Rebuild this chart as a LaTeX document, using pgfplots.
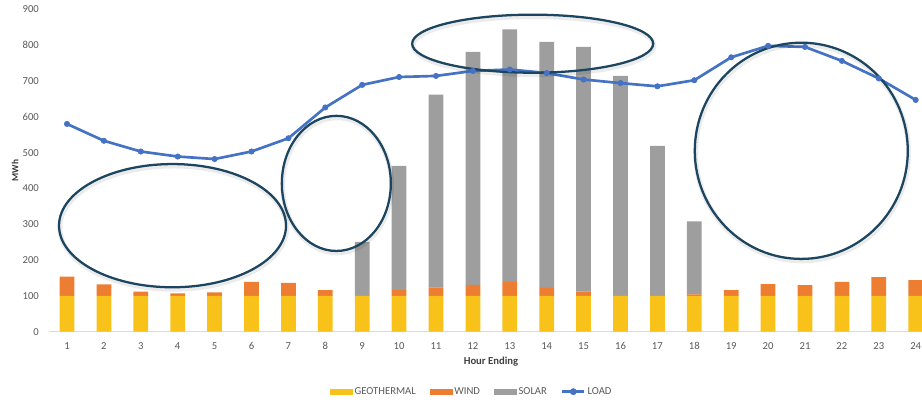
\documentclass[border=0pt]{standalone}
\usepackage{fontspec}
\setmainfont{Carlito}
\usepackage{pgfplots}
\usepackage{pgfplotstable}
\pgfplotsset{compat=1.18}

\definecolor{geo}{HTML}{F8C21A}
\definecolor{wind}{HTML}{ED7D31}
\definecolor{solar}{HTML}{9E9E9E}
\definecolor{load}{HTML}{4472C4}
\definecolor{ring}{HTML}{1C4560}
\definecolor{ticktxt}{HTML}{595959}
\definecolor{baseline}{HTML}{D9D9D9}

% hourly generation mix and load (MWh)
\pgfplotstableread{
hour geo wind solar load
1  100 54 0   580
2  100 32 0   533
3  100 12 0   503
4  100 7  0   489
5  100 10 0   482
6  100 39 0   503
7  100 36 0   540
8  100 16 0   626
9  100 0  151 689
10 100 16 347 711
11 100 24 538 714
12 100 31 650 728
13 100 39 705 732
14 100 22 687 722
15 100 12 683 704
16 100 0  614 694
17 100 0  419 685
18 100 4  204 702
19 100 16 0   766
20 100 33 0   798
21 100 30 0   795
22 100 39 0   756
23 100 52 0   707
24 100 44 0   647
}\hourly

\pgfplotsset{
  base/.style={
    width=664.2pt, height=241.8pt, scale only axis,
    xmin=0.5, xmax=24.5, ymin=0, ymax=900,
    xtick={1,...,24}, ytick={0,100,...,900},
    major tick length=0pt,
    tick label style={font=\fontsize{8}{9.6}\selectfont, text=ticktxt},
    /pgf/number format/assume math mode=true,
  }
}

\begin{document}
\begin{tikzpicture}
% stacked generation bars
\begin{axis}[base, name=ax,
  ybar stacked, bar width=0.4,
  axis x line*=bottom, axis y line*=left,
  x axis line style={draw=baseline, line width=0.75pt, -},
  y axis line style={draw=none},
  x tick label style={anchor=center, yshift=-10.5pt},
  y tick label style={anchor=east, inner sep=0pt, xshift=-7.1pt},
  xlabel={\textbf{Hour Ending}},
  xlabel style={at={(axis description cs:0.4996,-0.094)}, anchor=center,
    font=\fontsize{8}{9.6}\selectfont, text=black!75},
  ylabel={\textbf{MWh}},
  ylabel style={at={(axis description cs:-0.0379,0.5)}, anchor=center,
    font=\fontsize{7}{8.4}\selectfont, text=black!80},
]
\addplot[fill=geo, draw=none] table[x=hour, y=geo]{\hourly};
\addplot[fill=wind, draw=none] table[x=hour, y=wind]{\hourly};
\addplot[fill=solar, draw=none] table[x=hour, y=solar]{\hourly};
\end{axis}

% load curve, legend and highlighted periods
\begin{axis}[base, hide axis, clip=false,
  legend columns=4,
  legend style={at={(0.478,-0.186)}, anchor=center, draw=none, fill=none,
    font=\fontsize{8}{9.6}\selectfont, text=ticktxt,
    nodes={inner sep=1.5pt},
    /tikz/every even column/.append style={column sep=9pt}},
]
\addlegendimage{legend image code/.code={\fill[geo] (0pt,-1.6pt) rectangle (16.5pt,1.6pt);}}
\addlegendentry{GEOTHERMAL}
\addlegendimage{legend image code/.code={\fill[wind] (0pt,-1.6pt) rectangle (16.5pt,1.6pt);}}
\addlegendentry{WIND}
\addlegendimage{legend image code/.code={\fill[solar] (0pt,-1.6pt) rectangle (16.5pt,1.6pt);}}
\addlegendentry{SOLAR}
\addplot[load, line width=2pt, mark=*, mark size=2pt,
  mark options={fill=load, draw=load, line width=0.5pt},
  legend image code/.code={\draw[load, line width=2pt] (0pt,0pt) -- (16.5pt,0pt);
    \fill[load] (8.25pt,0pt) circle (1.5pt);}]
  table[x=hour, y=load]{\hourly};
\addlegendentry{LOAD}

% soft shadows under the rings
\begin{scope}[black, opacity=0.08, line width=3.6pt, xshift=0.6pt, yshift=-1.5pt]
\draw (axis cs:3.86,296) ellipse [x radius=3.076, y radius=172];
\draw (axis cs:8.30,414) ellipse [x radius=1.477, y radius=188.6];
\draw (axis cs:13.62,804) ellipse [x radius=3.266, y radius=81];
\draw (axis cs:20.90,505) ellipse [x radius=2.886, y radius=301.8];
\end{scope}
% rings marking the periods of interest
\begin{scope}[ring, line width=1.7pt]
\draw (axis cs:3.86,296) ellipse [x radius=3.076, y radius=172];
\draw (axis cs:8.30,414) ellipse [x radius=1.477, y radius=188.6];
\draw (axis cs:13.62,804) ellipse [x radius=3.266, y radius=81];
\draw (axis cs:20.90,505) ellipse [x radius=2.886, y radius=301.8];
\end{scope}
\end{axis}

\pgfresetboundingbox
\path[use as bounding box] ([xshift=-36.41pt, yshift=-51.98pt]ax.south west) rectangle ++(691.5pt,300.75pt);
\end{tikzpicture}
\end{document}
